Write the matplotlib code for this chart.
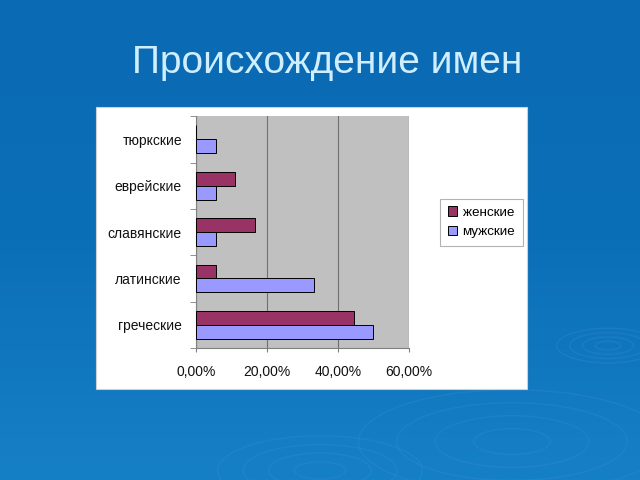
import matplotlib
matplotlib.use('Agg')
import matplotlib.pyplot as plt
import numpy as np
from matplotlib.patches import Rectangle, Ellipse
from matplotlib.ticker import FuncFormatter

CATEGORIES = ['греческие', 'латинские', 'славянские', 'еврейские', 'тюркские']
FEMALE = [44.4, 5.6, 16.7, 11.1, 0.0]
MALE = [50.0, 33.3, 5.6, 5.6, 5.6]
SERIES_NAMES = ['женские', 'мужские']
XTICKS = [0, 20, 40, 60]
TITLE = 'Происхождение имен'

plt.rcParams['font.family'] = ['Liberation Sans', 'DejaVu Sans']

fig = plt.figure(figsize=(6.4, 4.8), dpi=100)

# blue slide background with a soft gradient
bg = fig.add_axes([0, 0, 1, 1], zorder=-10)
grad = np.linspace(0, 1, 256).reshape(-1, 1)
cmap = matplotlib.colors.LinearSegmentedColormap.from_list(
    'slide', ['#0a6ab3', '#0b6fb8', '#1680c6'])
bg.imshow(grad, aspect='auto', cmap=cmap, extent=[0, 1, 0, 1], origin='upper')
# faint ripples
for cx, cy, r in [(0.95, 0.28, 0.05), (0.8, 0.08, 0.15), (0.5, 0.02, 0.1)]:
    for k in range(1, 5):
        bg.add_patch(Ellipse((cx, cy), 2 * r * k / 2.5, 0.9 * r * k / 2.5,
                             fill=False, ec='#3f93d0', lw=1.0, alpha=0.25))
bg.set_xlim(0, 1)
bg.set_ylim(0, 1)
bg.axis('off')

fig.text(0.511, 0.868, TITLE, ha='center', va='center', fontsize=28,
         color='#cfeeff')

# white chart panel
fig.patches.append(Rectangle((0.15, 0.19), 0.673, 0.5875,
                             transform=fig.transFigure, fc='white',
                             ec='#d0d0d0', lw=0.8, zorder=-5))

ax = fig.add_axes([0.306, 0.275, 0.333, 0.483])
ax.set_facecolor('#c0c0c0')
y = np.arange(len(CATEGORIES))
h = 0.3
ax.barh(y + h / 2, FEMALE, height=h, color='#993366', edgecolor='black',
        lw=0.7, label=SERIES_NAMES[0], zorder=3)
ax.barh(y - h / 2, MALE, height=h, color='#9999ff', edgecolor='black',
        lw=0.7, label=SERIES_NAMES[1], zorder=3)

ax.set_xlim(0, 60)
ax.set_ylim(-0.5, len(CATEGORIES) - 0.5)
ax.set_xticks(XTICKS)
ax.xaxis.set_major_formatter(FuncFormatter(
    lambda v, p: ('%.2f%%' % v).replace('.', ',')))
ax.set_yticks(y)
ax.set_yticklabels(CATEGORIES)
ax.set_yticks(np.arange(-0.5, len(CATEGORIES)), minor=True)
ax.tick_params(axis='y', which='major', length=0, pad=10, labelsize=10,
               labelcolor='#111111')
ax.tick_params(axis='y', which='minor', length=4, color='#808080')
ax.tick_params(axis='x', length=3, color='#808080', pad=9, labelsize=10,
               labelcolor='#111111')
ax.grid(axis='x', color='#707070', lw=0.8, zorder=1)
for s in ['top', 'right']:
    ax.spines[s].set_visible(False)
ax.spines['left'].set_color('#808080')
ax.spines['bottom'].set_color('#808080')

leg = fig.legend(loc='upper left', bbox_to_anchor=(0.688, 0.586),
                 fontsize=9.7, frameon=True, fancybox=False, handlelength=0.7,
                 handleheight=0.7, handletextpad=0.4, borderpad=0.55,
                 labelspacing=0.55, borderaxespad=0)
leg.get_frame().set_edgecolor('#a0a0a0')
leg.get_frame().set_linewidth(0.8)

fig.savefig('out.png', dpi=100)
